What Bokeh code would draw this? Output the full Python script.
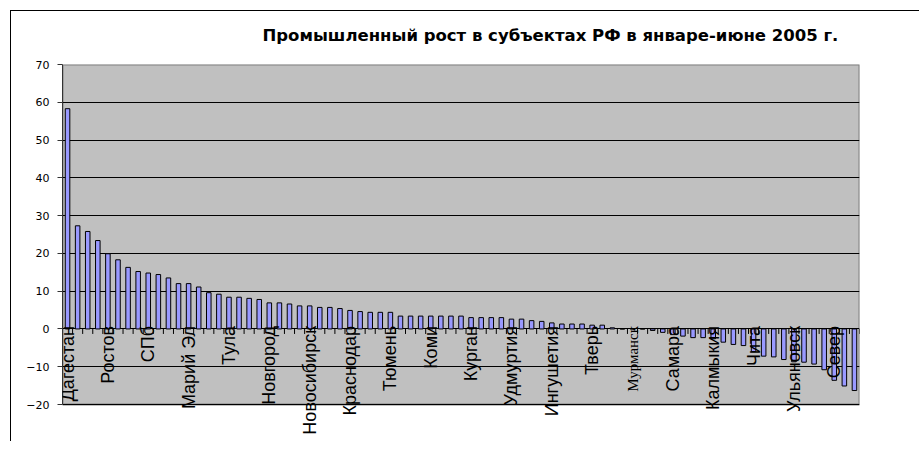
import math
from bokeh.plotting import figure
from bokeh.models import ColumnDataSource, Label, FixedTicker, Range1d
from bokeh.embed import file_html
from bokeh.resources import INLINE

title_text = "Промышленный рост в субъектах РФ в январе-июне 2005 г."

growth = [
    58.3, 27.3, 25.8, 23.4, 19.9, 18.3, 16.3, 15.2, 14.8, 14.4,
    13.5, 12.0, 12.0, 11.1, 9.6, 9.2, 8.4, 8.4, 8.1, 7.8,
    6.9, 6.9, 6.6, 6.1, 6.1, 5.7, 5.7, 5.4, 4.9, 4.6,
    4.4, 4.4, 4.4, 3.4, 3.4, 3.4, 3.4, 3.4, 3.4, 3.4,
    3.0, 3.0, 3.0, 3.0, 2.6, 2.6, 2.2, 2.0, 1.6, 1.3,
    1.3, 1.3, 1.0, 1.0, 0.3, 0.0, 0.0, 0.0, -0.4, -0.9,
    -1.5, -1.9, -2.3, -2.3, -2.6, -3.5, -4.1, -4.4, -6.0, -7.2,
    -7.4, -8.1, -8.7, -8.8, -9.3, -10.8, -13.6, -15.1, -16.3,
]

label_index = [0, 4, 8, 12, 16, 20, 24, 28, 32, 36, 40, 44, 48, 52, 56, 60, 64, 68, 72, 76]
label_names = [
    "Дагестан", "Ростов", "СПб", "Марий Эл", "Тула", "Новгород", "Новосибирск",
    "Краснодар", "Тюмень", "Коми", "Курган", "Удмуртия", "Ингушетия", "Тверь",
    "Мурманск", "Самара", "Калмыкия", "Чита", "Ульяновск", "Север",
]
label_fonts = ["Liberation Sans"] * len(label_names)
label_sizes = ["18px"] * len(label_names)
label_fonts[14] = "Liberation Serif"
label_sizes[14] = "15px"

y_ticks = [-20, -10, 0, 10, 20, 30, 40, 50, 60, 70]

n = len(growth)
W, H = 919, 441
LEFT, RIGHT, TOP = 62, 60, 64
AREA_H = 340          # pixel height of the grey plot area
EXTRA_PX = 34         # room below the plot area for the category labels
TICK_PX = 5

y_lo, y_hi = y_ticks[0], y_ticks[-1]
units_per_px = (y_hi - y_lo) / AREA_H
y_min = y_lo - EXTRA_PX * units_per_px

bar_src = ColumnDataSource(dict(x=[i + 0.5 for i in range(n)], top=growth))

p = figure(
    width=W, height=H,
    x_range=Range1d(0, n), y_range=Range1d(y_min, y_hi),
    output_backend="svg", toolbar_location=None,
    min_border_left=LEFT, min_border_right=RIGHT, min_border_top=TOP,
    min_border_bottom=H - TOP - AREA_H - EXTRA_PX,
)
# chart-area border (top and left edges) drawn behind the transparent canvas
p.styles = {
    "background-image": "linear-gradient(#000, #000), linear-gradient(#000, #000)",
    "background-size": "1px 100%, 100% 1px",
    "background-position": "10px 10px, 10px 10px",
    "background-repeat": "no-repeat",
    "background-color": "white",
}

p.background_fill_color = None
p.border_fill_color = None
p.outline_line_color = None

# grey plot area with its border
p.quad(left=[0], right=[n], bottom=[y_lo], top=[y_hi],
       fill_color="#C0C0C0", line_color="#808080", line_width=2, level="underlay")

p.title.text = title_text
p.title.align = "left"
p.title.offset = 200
p.title.standoff = 40
p.title.text_font = "DejaVu Sans"
p.title.text_font_size = "16.5px"
p.title.text_font_style = "bold"
p.title.text_color = "black"

p.ygrid.ticker = FixedTicker(ticks=y_ticks)
p.ygrid.grid_line_color = "black"
p.ygrid.grid_line_width = 1
p.ygrid.level = "underlay"
p.xgrid.grid_line_color = None

p.vbar(x="x", top="top", bottom=0, width=0.45, source=bar_src,
       fill_color="#9999FF", line_color="black", line_width=1)

# category-boundary tick marks on the zero line
tick_len = TICK_PX * units_per_px
bounds = list(range(n + 1))
p.segment(x0=bounds, x1=bounds, y0=[0] * len(bounds), y1=[-tick_len] * len(bounds),
          line_color="black", line_width=1)

# y axis
p.yaxis.ticker = FixedTicker(ticks=y_ticks)
p.yaxis.bounds = (y_lo, y_hi)
p.yaxis.major_tick_out = 5
p.yaxis.major_tick_in = 0
p.yaxis.minor_tick_line_color = None
p.yaxis.axis_line_color = "#333333"
p.yaxis.major_tick_line_color = "#333333"
p.yaxis.major_label_text_font = "DejaVu Sans"
p.yaxis.major_label_text_font_size = "11px"
p.yaxis.major_label_text_color = "black"
p.yaxis.major_label_standoff = 8

p.xaxis.visible = False

for idx, name, font, size in zip(label_index, label_names, label_fonts, label_sizes):
    p.add_layout(Label(x=idx + 0.5, y=0, text=name, angle=math.pi / 2,
                       text_align="right", text_baseline="middle",
                       text_font=font, text_font_size=size, text_color="black",
                       y_offset=3))

open("out.html", "w").write(file_html(p, INLINE))
